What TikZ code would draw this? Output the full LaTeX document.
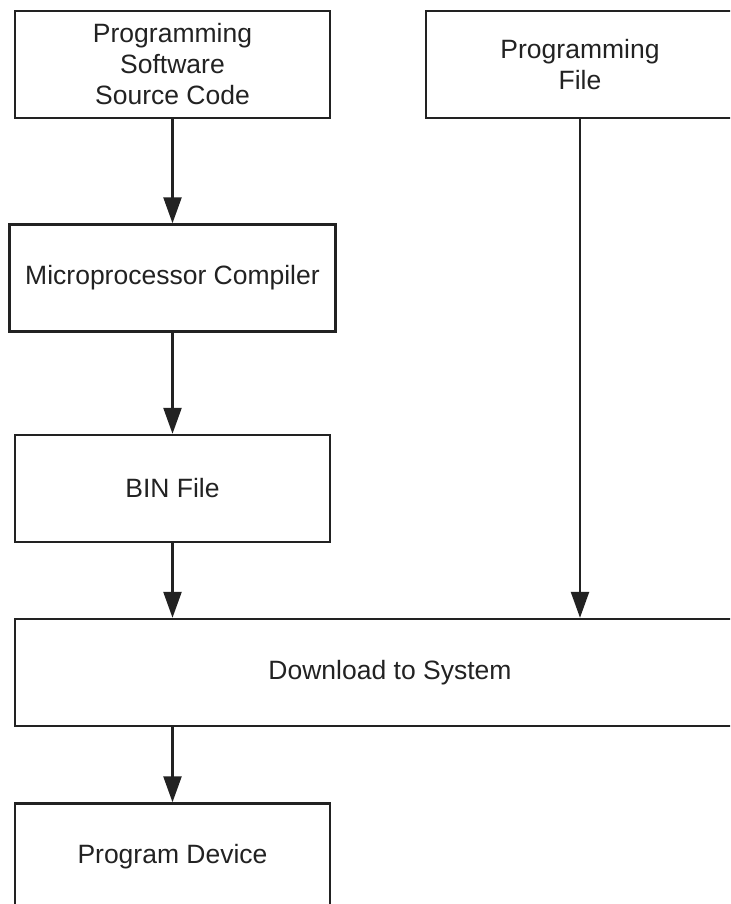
\documentclass[tikz,border=0pt]{standalone}
\usepackage{fontspec}
\setmainfont{Liberation Sans}
\usetikzlibrary{positioning,arrows.meta,calc}
\definecolor{flowInk}{HTML}{222222}

\begin{document}
\begin{tikzpicture}[x=0.5pt, y=-0.5pt, font=\fontsize{13.25}{15.5}\selectfont, >={Triangle[length=13pt, width=9pt]},
          blk/.style={draw=flowInk, line width=1.2pt, text=flowInk, align=center, inner sep=2pt,
                      minimum width=157.5pt, minimum height=53.5pt},
          flow/.style={->, draw=flowInk, line width=1.2pt}]
        \useasboundingbox (0,0) rectangle (730,904);
        \clip (0,0) rectangle (730,904);
        % left column
        \node[blk] (src) at (172.5,64.5) {Programming\\Software\\Source Code};
        \node[blk, minimum width=163pt] (comp) at (172.5,278) {Microprocessor Compiler};
        \node[blk] (bin) at (172.5,488.5) {BIN File};
        % right column
        \node[blk, minimum width=154pt] (pfile) at (580,64.5) {Programming\\File};
        % bottom
        \node[blk, minimum width=375pt] (dl) at (390,672.5) {Download to System};
        \node[blk] (dev) at (172.5,857) {Program Device};
        \draw[flow] (src) -- (comp);
        \draw[flow] (comp) -- (bin);
        \draw[flow] (bin.south) -- (bin.south |- dl.north);
        \draw[flow] (pfile.south) -- (pfile.south |- dl.north);
        \draw[flow] (dl.south -| dev.north) -- (dev.north);
      \end{tikzpicture}
\end{document}
